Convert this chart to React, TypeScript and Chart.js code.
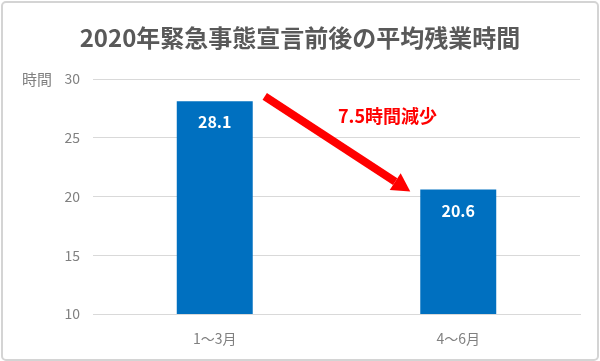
import React, { useEffect, useRef } from "react";
import { Chart, registerables } from "chart.js";

Chart.register(...registerables);

const chartTitle = "2020年緊急事態宣言前後の平均残業時間";
const yAxisTitle = "時間";
const categories = ["1～3月", "4～6月"];
const hours = [28.1, 20.6];
const yTicks = { min: 10, max: 30, step: 5 };

const FONT = "'Noto Sans CJK JP', 'Noto Sans', sans-serif";
const BAR_COLOR = "#0070C0";
const TEXT_GRAY = "#595959";
const TICK_GRAY = "#808080";
const GRID = "#d9d9d9";
const RED = "#ff0000";

const overlayPlugin = {
  id: "overlay",
  beforeDraw(chart: any) {
    const { ctx, width, height } = chart;
    ctx.save();
    ctx.fillStyle = "#ffffff";
    ctx.fillRect(0, 0, width, height);
    ctx.strokeStyle = "#d4d4d4";
    ctx.lineWidth = 2;
    ctx.beginPath();
    (ctx as any).roundRect(2, 2, width - 4, height - 3, 4);
    ctx.stroke();
    ctx.restore();
  },
  afterDraw(chart: any) {
    const { ctx } = chart;
    const yScale = chart.scales.y;
    const meta = chart.getDatasetMeta(0);
    ctx.save();
    // title
    ctx.fillStyle = TEXT_GRAY;
    ctx.font = `bold 24px ${FONT}`;
    ctx.textAlign = "center";
    ctx.textBaseline = "middle";
    ctx.fillText(chartTitle, chart.width / 2, 38);
    // y-axis title
    ctx.fillStyle = TICK_GRAY;
    ctx.font = `15px ${FONT}`;
    ctx.textAlign = "center";
    ctx.fillText(yAxisTitle, 37, yScale.getPixelForValue(yTicks.max));
    // bar value labels
    ctx.fillStyle = "#ffffff";
    ctx.font = `bold 16px ${FONT}`;
    meta.data.forEach((bar: any, i: number) => {
      ctx.fillText(hours[i].toFixed(1), bar.x, bar.y + 21);
    });
    // arrow
    const b1 = meta.data[0];
    const b2 = meta.data[1];
    const sx = b1.x + b1.width / 2 + 12;
    const sy = b1.y - 5;
    const ex = b2.x - b2.width / 2 - 10;
    const ey = b2.y + 2;
    const ang = Math.atan2(ey - sy, ex - sx);
    const headLen = 18;
    const headHalf = 10;
    const bx = ex - headLen * Math.cos(ang);
    const by = ey - headLen * Math.sin(ang);
    ctx.strokeStyle = RED;
    ctx.lineWidth = 8;
    ctx.lineCap = "butt";
    ctx.beginPath();
    ctx.moveTo(sx, sy);
    ctx.lineTo(bx, by);
    ctx.stroke();
    ctx.fillStyle = RED;
    ctx.beginPath();
    ctx.moveTo(ex, ey);
    ctx.lineTo(bx + headHalf * Math.sin(ang), by - headHalf * Math.cos(ang));
    ctx.lineTo(bx - headHalf * Math.sin(ang), by + headHalf * Math.cos(ang));
    ctx.closePath();
    ctx.fill();
    // difference label
    const diff = (hours[0] - hours[1]).toFixed(1);
    ctx.font = `bold 18px ${FONT}`;
    ctx.fillStyle = RED;
    ctx.textAlign = "center";
    ctx.fillText(`${diff}時間減少`, (sx + ex) / 2 + 50, (sy + ey) / 2 - 28);
    ctx.restore();
  },
};

export default function App() {
  const canvasRef = useRef<HTMLCanvasElement | null>(null);

  useEffect(() => {
    if (!canvasRef.current) return;
    const chart = new Chart(canvasRef.current, {
      type: "bar",
      data: {
        labels: categories,
        datasets: [
          {
            data: hours,
            backgroundColor: BAR_COLOR,
            categoryPercentage: 1,
            barPercentage: 0.312,
          },
        ],
      },
      options: {
        responsive: false,
        animation: false,
        layout: { padding: { top: 79, right: 20, bottom: 11, left: 0 } },
        plugins: {
          legend: { display: false },
          title: { display: false },
          tooltip: { enabled: false },
        },
        scales: {
          x: {
            grid: { display: false },
            border: { display: true, color: GRID, width: 1 },
            ticks: {
              color: TICK_GRAY,
              font: { family: FONT, size: 14 },
              padding: 8,
            },
            afterFit(scale: any) {
              scale.height = 36;
            },
          },
          y: {
            min: yTicks.min,
            max: yTicks.max,
            grid: { color: GRID, drawTicks: false },
            border: { display: false },
            ticks: {
              stepSize: yTicks.step,
              color: TICK_GRAY,
              font: { family: FONT, size: 14 },
              padding: 13,
            },
            afterFit(scale: any) {
              scale.width = 93;
            },
          },
        },
      },
      plugins: [overlayPlugin],
    } as any);
    return () => chart.destroy();
  }, []);

  return (
    <div style={{ position: "fixed", left: 0, top: 0, width: 600, height: 361 }}>
      <canvas ref={canvasRef} width={600} height={361} />
    </div>
  );
}
